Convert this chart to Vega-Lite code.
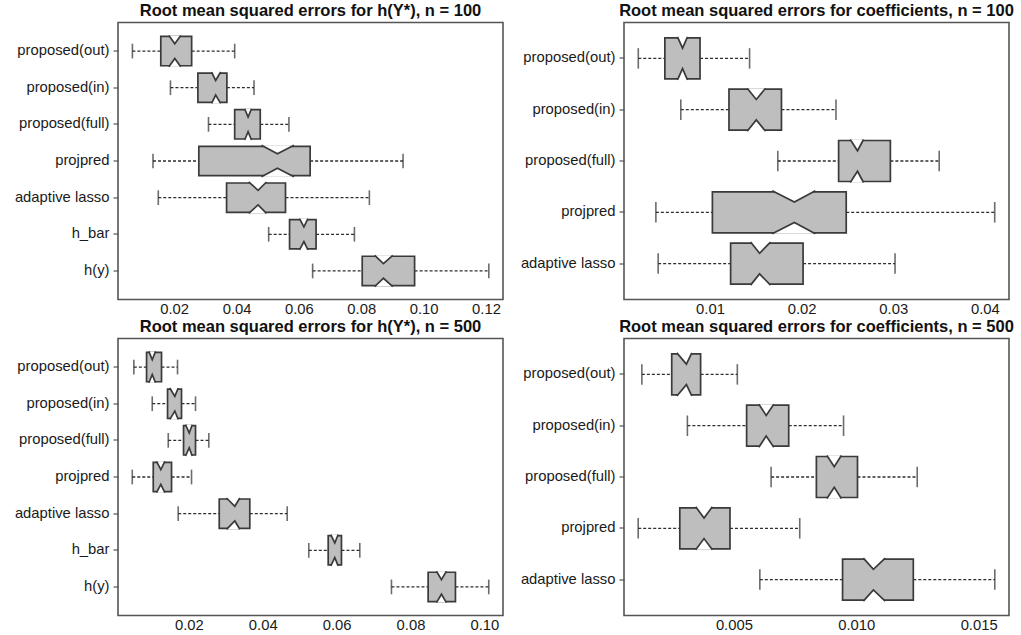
{
  "$schema": "https://vega.github.io/schema/vega-lite/v6.json",
  "background": "white",
  "padding": {"left": 0, "top": 1.5, "right": 0, "bottom": 0},
  "columns": 2,
  "spacing": {"row": 0, "column": 2},
  "datasets": {
    "stats": [
      {"panel": "A", "cat": "proposed(out)", "lo": 0.0066, "q1": 0.0157, "nl": 0.0183, "med": 0.0202, "nh": 0.0221, "q3": 0.0256, "hi": 0.0394},
      {"panel": "A", "cat": "proposed(in)", "lo": 0.0188, "q1": 0.0276, "nl": 0.0320, "med": 0.0333, "nh": 0.0349, "q3": 0.0369, "hi": 0.0456},
      {"panel": "A", "cat": "proposed(full)", "lo": 0.0310, "q1": 0.0394, "nl": 0.0426, "med": 0.0437, "nh": 0.0448, "q3": 0.0476, "hi": 0.0568},
      {"panel": "A", "cat": "projpred", "lo": 0.0132, "q1": 0.0279, "nl": 0.0480, "med": 0.0531, "nh": 0.0584, "q3": 0.0636, "hi": 0.0934},
      {"panel": "A", "cat": "adaptive lasso", "lo": 0.0149, "q1": 0.0368, "nl": 0.0439, "med": 0.0469, "nh": 0.0496, "q3": 0.0557, "hi": 0.0826},
      {"panel": "A", "cat": "h_bar", "lo": 0.0503, "q1": 0.0570, "nl": 0.0602, "med": 0.0616, "nh": 0.0629, "q3": 0.0655, "hi": 0.0778},
      {"panel": "A", "cat": "h(y)", "lo": 0.0644, "q1": 0.0803, "nl": 0.0843, "med": 0.0871, "nh": 0.0901, "q3": 0.0971, "hi": 0.1209},
      {"panel": "B", "cat": "proposed(out)", "lo": 0.00217, "q1": 0.00507, "nl": 0.00645, "med": 0.00700, "nh": 0.00754, "q3": 0.00891, "hi": 0.01432},
      {"panel": "B", "cat": "proposed(in)", "lo": 0.00681, "q1": 0.01207, "nl": 0.01406, "med": 0.01505, "nh": 0.01606, "q3": 0.01780, "hi": 0.02375},
      {"panel": "B", "cat": "proposed(full)", "lo": 0.01740, "q1": 0.02404, "nl": 0.02531, "med": 0.02610, "nh": 0.02676, "q3": 0.02969, "hi": 0.03502},
      {"panel": "B", "cat": "projpred", "lo": 0.00409, "q1": 0.01026, "nl": 0.01679, "med": 0.01921, "nh": 0.02150, "q3": 0.02487, "hi": 0.04108},
      {"panel": "B", "cat": "adaptive lasso", "lo": 0.00434, "q1": 0.01225, "nl": 0.01443, "med": 0.01541, "nh": 0.01660, "q3": 0.02016, "hi": 0.03020},
      {"panel": "C", "cat": "proposed(out)", "lo": 0.00512, "q1": 0.00856, "nl": 0.00918, "med": 0.01010, "nh": 0.01099, "q3": 0.01261, "hi": 0.01694},
      {"panel": "C", "cat": "proposed(in)", "lo": 0.01010, "q1": 0.01424, "nl": 0.01486, "med": 0.01621, "nh": 0.01713, "q3": 0.01802, "hi": 0.02181},
      {"panel": "C", "cat": "proposed(full)", "lo": 0.01443, "q1": 0.01857, "nl": 0.01911, "med": 0.02011, "nh": 0.02092, "q3": 0.02181, "hi": 0.02541},
      {"panel": "C", "cat": "projpred", "lo": 0.00469, "q1": 0.01037, "nl": 0.01126, "med": 0.01242, "nh": 0.01351, "q3": 0.01532, "hi": 0.02073},
      {"panel": "C", "cat": "adaptive lasso", "lo": 0.01713, "q1": 0.02823, "nl": 0.03020, "med": 0.03245, "nh": 0.03380, "q3": 0.03650, "hi": 0.04662},
      {"panel": "C", "cat": "h_bar", "lo": 0.05247, "q1": 0.05772, "nl": 0.05842, "med": 0.05950, "nh": 0.06042, "q3": 0.06131, "hi": 0.06627},
      {"panel": "C", "cat": "h(y)", "lo": 0.07484, "q1": 0.08477, "nl": 0.08702, "med": 0.08837, "nh": 0.08972, "q3": 0.09216, "hi": 0.10117},
      {"panel": "D", "cat": "proposed(out)", "lo": 0.00124, "q1": 0.00246, "nl": 0.00267, "med": 0.00306, "nh": 0.00328, "q3": 0.00364, "hi": 0.00514},
      {"panel": "D", "cat": "proposed(in)", "lo": 0.00310, "q1": 0.00552, "nl": 0.00602, "med": 0.00632, "nh": 0.00663, "q3": 0.00724, "hi": 0.00948},
      {"panel": "D", "cat": "proposed(full)", "lo": 0.00652, "q1": 0.00837, "nl": 0.00880, "med": 0.00910, "nh": 0.00939, "q3": 0.01005, "hi": 0.01249},
      {"panel": "D", "cat": "projpred", "lo": 0.00109, "q1": 0.00279, "nl": 0.00344, "med": 0.00378, "nh": 0.00412, "q3": 0.00484, "hi": 0.00769},
      {"panel": "D", "cat": "adaptive lasso", "lo": 0.00606, "q1": 0.00944, "nl": 0.01029, "med": 0.01070, "nh": 0.01118, "q3": 0.01233, "hi": 0.01566}
    ]
  },
  "concat": [
    {
      "width": 385, "height": 277,
      "title": {"text": "Root mean squared errors for h(Y*), n = 100"},
      "data": {"name": "stats"},
      "transform": [{"filter": {"field": "panel", "equal": "A"}}],
      "encoding": {
        "y": {"field": "cat", "type": "nominal", "title": null, "sort": null,
          "scale": {"domain": ["proposed(out)", "proposed(in)", "proposed(full)", "projpred", "adaptive lasso", "h_bar", "h(y)"], "paddingInner": 0, "paddingOuter": 0.28}}
      },
      "layer": [
        {"mark": {"type": "rule", "color": "#2e2e2e", "strokeWidth": 1.3, "strokeDash": [3, 2]},
         "encoding": {"x": {"field": "lo", "type": "quantitative", "title": null, "scale": {"domain": [0.00198, 0.12545], "nice": false, "zero": false}, "axis": {"values": [0.02, 0.04, 0.06, 0.08, 0.1, 0.12], "format": ".2f"}}, "x2": {"field": "q1"}}},
        {"mark": {"type": "rule", "color": "#2e2e2e", "strokeWidth": 1.3, "strokeDash": [3, 2]},
         "encoding": {"x": {"field": "q3", "type": "quantitative", "scale": {"domain": [0.00198, 0.12545], "nice": false, "zero": false}}, "x2": {"field": "hi"}}},
        {"mark": {"type": "tick", "orient": "vertical", "size": 14.7, "thickness": 1.6, "color": "#2e2e2e"},
         "encoding": {"x": {"field": "lo", "type": "quantitative", "scale": {"domain": [0.00198, 0.12545], "nice": false, "zero": false}}}},
        {"mark": {"type": "tick", "orient": "vertical", "size": 14.7, "thickness": 1.6, "color": "#2e2e2e"},
         "encoding": {"x": {"field": "hi", "type": "quantitative", "scale": {"domain": [0.00198, 0.12545], "nice": false, "zero": false}}}},
        {"mark": {"type": "bar", "height": {"band": 0.8}, "fill": "#bebebe", "stroke": "#3a3a3a", "strokeWidth": 1.7},
         "encoding": {"x": {"field": "q1", "type": "quantitative", "scale": {"domain": [0.00198, 0.12545], "nice": false, "zero": false}}, "x2": {"field": "q3"}}},
        {"transform": [{"fold": ["nl", "med", "nh"], "as": ["stat", "v"]}, {"window": [{"op": "row_number", "as": "r"}], "groupby": ["cat"], "sort": [{"field": "v", "order": "ascending"}]}],
         "mark": {"type": "line", "fill": "white", "stroke": "#3a3a3a", "strokeWidth": 1.7},
         "encoding": {"x": {"field": "v", "type": "quantitative", "scale": {"domain": [0.00198, 0.12545], "nice": false, "zero": false}},
           "yOffset": {"field": "r", "type": "quantitative", "scale": {"domain": [1, 2, 3], "range": [2.66, 10.99, 2.66], "zero": false, "nice": false}},
           "detail": {"field": "cat"}, "order": {"field": "r"}}},
        {"transform": [{"fold": ["nl", "med", "nh"], "as": ["stat", "v"]}, {"window": [{"op": "row_number", "as": "r"}], "groupby": ["cat"], "sort": [{"field": "v", "order": "ascending"}]}],
         "mark": {"type": "line", "fill": "white", "stroke": "#3a3a3a", "strokeWidth": 1.7},
         "encoding": {"x": {"field": "v", "type": "quantitative", "scale": {"domain": [0.00198, 0.12545], "nice": false, "zero": false}},
           "yOffset": {"field": "r", "type": "quantitative", "scale": {"domain": [1, 2, 3], "range": [33.98, 25.65, 33.98], "zero": false, "nice": false}},
           "detail": {"field": "cat"}, "order": {"field": "r"}}}
      ],
      "resolve": {"scale": {"yOffset": "independent"}}
    },
    {
      "width": 385, "height": 277,
      "title": {"text": "Root mean squared errors for coefficients, n = 100"},
      "data": {"name": "stats"},
      "transform": [{"filter": {"field": "panel", "equal": "B"}}],
      "encoding": {
        "y": {"field": "cat", "type": "nominal", "title": null, "sort": null,
          "scale": {"domain": ["proposed(out)", "proposed(in)", "proposed(full)", "projpred", "adaptive lasso"], "paddingInner": 0, "paddingOuter": 0.2}}
      },
      "layer": [
        {"mark": {"type": "rule", "color": "#2e2e2e", "strokeWidth": 1.3, "strokeDash": [3, 2]},
         "encoding": {"x": {"field": "lo", "type": "quantitative", "title": null, "scale": {"domain": [0.00061, 0.04264], "nice": false, "zero": false}, "axis": {"values": [0.01, 0.02, 0.03, 0.04], "format": ".2f"}}, "x2": {"field": "q1"}}},
        {"mark": {"type": "rule", "color": "#2e2e2e", "strokeWidth": 1.3, "strokeDash": [3, 2]},
         "encoding": {"x": {"field": "q3", "type": "quantitative", "scale": {"domain": [0.00061, 0.04264], "nice": false, "zero": false}}, "x2": {"field": "hi"}}},
        {"mark": {"type": "tick", "orient": "vertical", "size": 20.5, "thickness": 1.6, "color": "#2e2e2e"},
         "encoding": {"x": {"field": "lo", "type": "quantitative", "scale": {"domain": [0.00061, 0.04264], "nice": false, "zero": false}}}},
        {"mark": {"type": "tick", "orient": "vertical", "size": 20.5, "thickness": 1.6, "color": "#2e2e2e"},
         "encoding": {"x": {"field": "hi", "type": "quantitative", "scale": {"domain": [0.00061, 0.04264], "nice": false, "zero": false}}}},
        {"mark": {"type": "bar", "height": {"band": 0.8}, "fill": "#bebebe", "stroke": "#3a3a3a", "strokeWidth": 1.7},
         "encoding": {"x": {"field": "q1", "type": "quantitative", "scale": {"domain": [0.00061, 0.04264], "nice": false, "zero": false}}, "x2": {"field": "q3"}}},
        {"transform": [{"fold": ["nl", "med", "nh"], "as": ["stat", "v"]}, {"window": [{"op": "row_number", "as": "r"}], "groupby": ["cat"], "sort": [{"field": "v", "order": "ascending"}]}],
         "mark": {"type": "line", "fill": "white", "stroke": "#3a3a3a", "strokeWidth": 1.7},
         "encoding": {"x": {"field": "v", "type": "quantitative", "scale": {"domain": [0.00061, 0.04264], "nice": false, "zero": false}},
           "yOffset": {"field": "r", "type": "quantitative", "scale": {"domain": [1, 2, 3], "range": [4.13, 15.39, 4.13], "zero": false, "nice": false}},
           "detail": {"field": "cat"}, "order": {"field": "r"}}},
        {"transform": [{"fold": ["nl", "med", "nh"], "as": ["stat", "v"]}, {"window": [{"op": "row_number", "as": "r"}], "groupby": ["cat"], "sort": [{"field": "v", "order": "ascending"}]}],
         "mark": {"type": "line", "fill": "white", "stroke": "#3a3a3a", "strokeWidth": 1.7},
         "encoding": {"x": {"field": "v", "type": "quantitative", "scale": {"domain": [0.00061, 0.04264], "nice": false, "zero": false}},
           "yOffset": {"field": "r", "type": "quantitative", "scale": {"domain": [1, 2, 3], "range": [47.17, 35.91, 47.17], "zero": false, "nice": false}},
           "detail": {"field": "cat"}, "order": {"field": "r"}}}
      ],
      "resolve": {"scale": {"yOffset": "independent"}}
    },
    {
      "width": 385, "height": 277,
      "title": {"text": "Root mean squared errors for h(Y*), n = 500"},
      "data": {"name": "stats"},
      "transform": [{"filter": {"field": "panel", "equal": "C"}}],
      "encoding": {
        "y": {"field": "cat", "type": "nominal", "title": null, "sort": null,
          "scale": {"domain": ["proposed(out)", "proposed(in)", "proposed(full)", "projpred", "adaptive lasso", "h_bar", "h(y)"], "paddingInner": 0, "paddingOuter": 0.28}}
      },
      "layer": [
        {"mark": {"type": "rule", "color": "#2e2e2e", "strokeWidth": 1.3, "strokeDash": [3, 2]},
         "encoding": {"x": {"field": "lo", "type": "quantitative", "title": null, "scale": {"domain": [0.00083, 0.10503], "nice": false, "zero": false}, "axis": {"values": [0.02, 0.04, 0.06, 0.08, 0.1], "format": ".2f"}}, "x2": {"field": "q1"}}},
        {"mark": {"type": "rule", "color": "#2e2e2e", "strokeWidth": 1.3, "strokeDash": [3, 2]},
         "encoding": {"x": {"field": "q3", "type": "quantitative", "scale": {"domain": [0.00083, 0.10503], "nice": false, "zero": false}}, "x2": {"field": "hi"}}},
        {"mark": {"type": "tick", "orient": "vertical", "size": 14.7, "thickness": 1.6, "color": "#2e2e2e"},
         "encoding": {"x": {"field": "lo", "type": "quantitative", "scale": {"domain": [0.00083, 0.10503], "nice": false, "zero": false}}}},
        {"mark": {"type": "tick", "orient": "vertical", "size": 14.7, "thickness": 1.6, "color": "#2e2e2e"},
         "encoding": {"x": {"field": "hi", "type": "quantitative", "scale": {"domain": [0.00083, 0.10503], "nice": false, "zero": false}}}},
        {"mark": {"type": "bar", "height": {"band": 0.8}, "fill": "#bebebe", "stroke": "#3a3a3a", "strokeWidth": 1.7},
         "encoding": {"x": {"field": "q1", "type": "quantitative", "scale": {"domain": [0.00083, 0.10503], "nice": false, "zero": false}}, "x2": {"field": "q3"}}},
        {"transform": [{"fold": ["nl", "med", "nh"], "as": ["stat", "v"]}, {"window": [{"op": "row_number", "as": "r"}], "groupby": ["cat"], "sort": [{"field": "v", "order": "ascending"}]}],
         "mark": {"type": "line", "fill": "white", "stroke": "#3a3a3a", "strokeWidth": 1.7},
         "encoding": {"x": {"field": "v", "type": "quantitative", "scale": {"domain": [0.00083, 0.10503], "nice": false, "zero": false}},
           "yOffset": {"field": "r", "type": "quantitative", "scale": {"domain": [1, 2, 3], "range": [2.66, 10.99, 2.66], "zero": false, "nice": false}},
           "detail": {"field": "cat"}, "order": {"field": "r"}}},
        {"transform": [{"fold": ["nl", "med", "nh"], "as": ["stat", "v"]}, {"window": [{"op": "row_number", "as": "r"}], "groupby": ["cat"], "sort": [{"field": "v", "order": "ascending"}]}],
         "mark": {"type": "line", "fill": "white", "stroke": "#3a3a3a", "strokeWidth": 1.7},
         "encoding": {"x": {"field": "v", "type": "quantitative", "scale": {"domain": [0.00083, 0.10503], "nice": false, "zero": false}},
           "yOffset": {"field": "r", "type": "quantitative", "scale": {"domain": [1, 2, 3], "range": [33.98, 25.65, 33.98], "zero": false, "nice": false}},
           "detail": {"field": "cat"}, "order": {"field": "r"}}}
      ],
      "resolve": {"scale": {"yOffset": "independent"}}
    },
    {
      "width": 385, "height": 277,
      "title": {"text": "Root mean squared errors for coefficients, n = 500"},
      "data": {"name": "stats"},
      "transform": [{"filter": {"field": "panel", "equal": "D"}}],
      "encoding": {
        "y": {"field": "cat", "type": "nominal", "title": null, "sort": null,
          "scale": {"domain": ["proposed(out)", "proposed(in)", "proposed(full)", "projpred", "adaptive lasso"], "paddingInner": 0, "paddingOuter": 0.2}}
      },
      "layer": [
        {"mark": {"type": "rule", "color": "#2e2e2e", "strokeWidth": 1.3, "strokeDash": [3, 2]},
         "encoding": {"x": {"field": "lo", "type": "quantitative", "title": null, "scale": {"domain": [0.00051, 0.01624], "nice": false, "zero": false}, "axis": {"values": [0.005, 0.01, 0.015], "format": ".3f"}}, "x2": {"field": "q1"}}},
        {"mark": {"type": "rule", "color": "#2e2e2e", "strokeWidth": 1.3, "strokeDash": [3, 2]},
         "encoding": {"x": {"field": "q3", "type": "quantitative", "scale": {"domain": [0.00051, 0.01624], "nice": false, "zero": false}}, "x2": {"field": "hi"}}},
        {"mark": {"type": "tick", "orient": "vertical", "size": 20.5, "thickness": 1.6, "color": "#2e2e2e"},
         "encoding": {"x": {"field": "lo", "type": "quantitative", "scale": {"domain": [0.00051, 0.01624], "nice": false, "zero": false}}}},
        {"mark": {"type": "tick", "orient": "vertical", "size": 20.5, "thickness": 1.6, "color": "#2e2e2e"},
         "encoding": {"x": {"field": "hi", "type": "quantitative", "scale": {"domain": [0.00051, 0.01624], "nice": false, "zero": false}}}},
        {"mark": {"type": "bar", "height": {"band": 0.8}, "fill": "#bebebe", "stroke": "#3a3a3a", "strokeWidth": 1.7},
         "encoding": {"x": {"field": "q1", "type": "quantitative", "scale": {"domain": [0.00051, 0.01624], "nice": false, "zero": false}}, "x2": {"field": "q3"}}},
        {"transform": [{"fold": ["nl", "med", "nh"], "as": ["stat", "v"]}, {"window": [{"op": "row_number", "as": "r"}], "groupby": ["cat"], "sort": [{"field": "v", "order": "ascending"}]}],
         "mark": {"type": "line", "fill": "white", "stroke": "#3a3a3a", "strokeWidth": 1.7},
         "encoding": {"x": {"field": "v", "type": "quantitative", "scale": {"domain": [0.00051, 0.01624], "nice": false, "zero": false}},
           "yOffset": {"field": "r", "type": "quantitative", "scale": {"domain": [1, 2, 3], "range": [4.13, 15.39, 4.13], "zero": false, "nice": false}},
           "detail": {"field": "cat"}, "order": {"field": "r"}}},
        {"transform": [{"fold": ["nl", "med", "nh"], "as": ["stat", "v"]}, {"window": [{"op": "row_number", "as": "r"}], "groupby": ["cat"], "sort": [{"field": "v", "order": "ascending"}]}],
         "mark": {"type": "line", "fill": "white", "stroke": "#3a3a3a", "strokeWidth": 1.7},
         "encoding": {"x": {"field": "v", "type": "quantitative", "scale": {"domain": [0.00051, 0.01624], "nice": false, "zero": false}},
           "yOffset": {"field": "r", "type": "quantitative", "scale": {"domain": [1, 2, 3], "range": [47.17, 35.91, 47.17], "zero": false, "nice": false}},
           "detail": {"field": "cat"}, "order": {"field": "r"}}}
      ],
      "resolve": {"scale": {"yOffset": "independent"}}
    }
  ],
  "config": {
    "font": "Liberation Sans",
    "view": {"stroke": "#555555", "strokeWidth": 1.6},
    "axis": {"labelFont": "Liberation Sans", "labelFontSize": 14.8, "labelColor": "#1a1a1a", "domain": false, "grid": false},
    "axisY": {"ticks": true, "tickSize": 5, "tickColor": "#555555", "tickWidth": 1.2, "labelPadding": 4, "minExtent": 117, "maxExtent": 117, "labelLimit": 200},
    "axisX": {"ticks": false, "labelPadding": 2, "minExtent": 14, "maxExtent": 14},
    "title": {"font": "Liberation Sans", "fontSize": 16.5, "fontWeight": "bold", "color": "#111111", "anchor": "middle", "frame": "group", "baseline": "alphabetic", "offset": 3}
  }
}
